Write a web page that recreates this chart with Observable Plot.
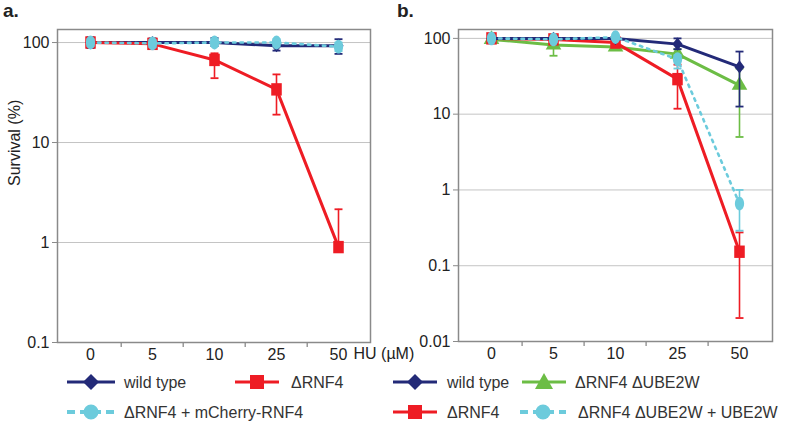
<!DOCTYPE html>
<html><head><meta charset="utf-8">
<script src="https://cdn.jsdelivr.net/npm/d3@7"></script>
<script src="https://cdn.jsdelivr.net/npm/@observablehq/plot@0.6"></script>
<style>
body{margin:0;background:#fff;font-family:"Liberation Sans",Arial,sans-serif;}
#wrap{position:relative;width:787px;height:423px;overflow:hidden;}
.pl{position:absolute;top:0;}
.lab{position:absolute;font-weight:bold;font-size:19px;color:#222;}
</style></head>
<body><div id="wrap"></div>
<script>
// ---- data ----
const doses = ["0", "5", "10", "25", "50"];
const seriesNames = ["wild type", "ΔRNF4", "ΔRNF4 + mCherry-RNF4", "ΔRNF4 ΔUBE2W", "ΔRNF4 ΔUBE2W + UBE2W"];
const colors = ["#232a78", "#ee1c24", "#6ccbdc", "#6cbd45", "#6ccbdc"];

// Panel a
const wtA = [100, 100, 100, 93, 93];
const wtA_lo = [88, 91, 92, 83, 77];
const wtA_hi = [113, 110, 111, 104, 108];
const rnfA = [100, 97, 67, 34, 0.9];
const rnfA_lo = [96, 93, 44, 19, 0.9];
const rnfA_hi = [104, 101, 78, 48, 2.15];
const cyA = [100, 98, 100, 100, 91];
const cyA_lo = [92, 90, 92, 92, 82];
const cyA_hi = [108, 106, 108, 108, 100];

// Panel b
const wtB = [100, 100, 100, 84, 42];
const wtB_lo = [95, 95, 95, 72, 12.6];
const wtB_hi = [105, 108, 106, 100, 67];
const rnfB = [100, 97, 88, 29, 0.153];
const rnfB_lo = [96, 93, 82, 11.8, 0.0204];
const rnfB_hi = [104, 101, 94, 45, 0.275];
const grB = [97, 82, 77, 62, 24];
const grB_lo = [93, 59, 70, 52, 5.0];
const grB_hi = [101, 90, 84, 72, 40];
const cyB = [100, 97, 104, 53, 0.66];
const cyB_lo = [94, 90, 96, 40, 0.29];
const cyB_hi = [106, 104, 110, 60, 1.0];

const yTicksA = [100, 10, 1, 0.1];
const yTicksB = [100, 10, 1, 0.1, 0.01];

// ---- helpers ----
function rows(name, v, lo, hi) {
  return doses.map((d, i) => ({series: name, dose: d, v: v[i], lo: lo[i], hi: hi[i]}));
}
const ellipse = {draw(ctx, size) {
  const r = Math.sqrt(size / Math.PI), rx = r * 0.72, ry = r * 1.08, k = 0.5523;
  ctx.moveTo(rx, 0);
  ctx.bezierCurveTo(rx, ry * k, rx * k, ry, 0, ry);
  ctx.bezierCurveTo(-rx * k, ry, -rx, ry * k, -rx, 0);
  ctx.bezierCurveTo(-rx, -ry * k, -rx * k, -ry, 0, -ry);
  ctx.bezierCurveTo(rx * k, -ry, rx, -ry * k, rx, 0);
  ctx.closePath();
}};
const cap = {draw(ctx, size) {
  const w = Math.sqrt(size) * 0.5;
  ctx.moveTo(-w, 0); ctx.lineTo(w, 0);
}};
const diamond = {draw(ctx, size) {
  const r = Math.sqrt(size / Math.PI);
  ctx.moveTo(0, -r * 1.1); ctx.lineTo(r * 0.85, 0); ctx.lineTo(0, r * 1.1); ctx.lineTo(-r * 0.85, 0); ctx.closePath();
}};
const square = {draw(ctx, size) {
  const r = Math.sqrt(size / Math.PI);
  ctx.rect(-r * 0.85, -r, r * 1.7, r * 2);
}};

function seriesMarks(data, color, sym, r, dash, sw) {
  return [
    Plot.line(data, {x: "dose", y: "v", stroke: color, strokeWidth: sw || 3, strokeDasharray: dash}),
    Plot.ruleX(data, {x: "dose", y1: "lo", y2: "hi", stroke: color, strokeWidth: 1.6}),
    Plot.dot(data, {x: "dose", y: "lo", symbol: cap, r: 4.5, stroke: color, strokeWidth: 1.8}),
    Plot.dot(data, {x: "dose", y: "hi", symbol: cap, r: 4.5, stroke: color, strokeWidth: 1.8}),
    Plot.dot(data, {x: "dose", y: "v", symbol: sym, r: r, fill: color, stroke: "none"})
  ];
}

function panel(opts) {
  const {width, height, ml, mr, mt, mb, ydomain, yticks, series, ylabel, xlabel} = opts;
  const step = (width - ml - mr) / doses.length;
  const marks = [
    Plot.gridY(yticks, {stroke: "#c4c4c4", strokeOpacity: 1, strokeWidth: 1}),
    Plot.frame({stroke: "#8a8a8a", strokeWidth: 1.5}),
    Plot.axisY(yticks, {tickSize: 5, tickPadding: 3, stroke: "#8a8a8a", tickFormat: d3.format("~g"), label: null, fontSize: 16, fill: "#222"}),
    Plot.axisX({tickSize: 0, tickPadding: 6, label: null, fontSize: 16, fill: "#222"}),
    Plot.ruleX(doses.slice(1), {x: d => d, dx: -step / 2, y1: ydomain[0], y2: ydomain[0], insetBottom: -5, stroke: "#8a8a8a", strokeWidth: 1.3})
  ];
  for (const s of series) marks.push(...seriesMarks(s.data, s.color, s.sym, s.r, s.dash, s.sw));
  if (ylabel) marks.push(Plot.text([ylabel], {frameAnchor: "left", rotate: -90, dx: -43, fontSize: 16, fill: "#222", text: d => d}));
  if (xlabel) marks.push(Plot.text([xlabel], {x: () => doses[doses.length - 1], frameAnchor: "bottom", dx: 15, dy: 16, textAnchor: "start", fontSize: 16, fill: "#222", text: d => d}));
  return Plot.plot({
    width, height, marginLeft: ml, marginRight: mr, marginTop: mt, marginBottom: mb,
    style: {fontFamily: '"Liberation Sans", Arial, sans-serif', fontSize: "16px", overflow: "visible", background: "transparent"},
    x: {type: "point", domain: doses, padding: 0.5},
    y: {type: "log", domain: ydomain},
    marks
  });
}

const wrap = document.getElementById("wrap");

const pa = panel({
  width: 420, height: 365, ml: 57, mr: 50, mt: 29, mb: 23,
  ydomain: [0.1, 135], yticks: yTicksA, ylabel: "Survival (%)", xlabel: "HU (µM)",
  series: [
    {data: rows(seriesNames[0], wtA, wtA_lo, wtA_hi), color: colors[0], sym: diamond, r: 6},
    {data: rows(seriesNames[1], rnfA, rnfA_lo, rnfA_hi), color: colors[1], sym: square, r: 6.2},
    {data: rows(seriesNames[2], cyA, cyA_lo, cyA_hi), color: colors[2], sym: ellipse, r: 6.4, dash: "2.5 5", sw: 2.6}
  ]
});
pa.classList.add("pl"); pa.style.left = "0px";

const pb = panel({
  width: 392, height: 365, ml: 63, mr: 15, mt: 29, mb: 24,
  ydomain: [0.01, 131], yticks: yTicksB,
  series: [
    {data: rows(seriesNames[3], grB, grB_lo, grB_hi), color: colors[3], sym: "triangle", r: 5.8},
    {data: rows(seriesNames[1], rnfB, rnfB_lo, rnfB_hi), color: colors[1], sym: square, r: 6.2},
    {data: rows(seriesNames[0], wtB, wtB_lo, wtB_hi), color: colors[0], sym: diamond, r: 6},
    {data: rows(seriesNames[4], cyB, cyB_lo, cyB_hi), color: colors[4], sym: ellipse, r: 6.4, dash: "2.5 5", sw: 2.6}
  ]
});
pb.classList.add("pl"); pb.style.left = "395px";

wrap.appendChild(pb);
wrap.appendChild(pa);

// panel letters
for (const [t, x] of [["a.", 3], ["b.", 397]]) {
  const d = document.createElement("div");
  d.className = "lab"; d.textContent = t; d.style.left = x + "px"; d.style.top = "0px";
  wrap.appendChild(d);
}

// legend
const legendItems = [
  {name: seriesNames[0], color: colors[0], shape: "diamond", x0: 67, x1: 115, tx: 124, row: 0},
  {name: seriesNames[1], color: colors[1], shape: "square", x0: 235, x1: 279, tx: 291, row: 0},
  {name: seriesNames[2], color: colors[2], shape: "circle", x0: 67, x1: 115, tx: 124, row: 1, dash: true},
  {name: seriesNames[0], color: colors[0], shape: "diamond", x0: 393, x1: 437, tx: 447, row: 0},
  {name: seriesNames[3], color: colors[3], shape: "triangle", x0: 522, x1: 566, tx: 575, row: 0},
  {name: seriesNames[1], color: colors[1], shape: "square", x0: 393, x1: 437, tx: 447, row: 1},
  {name: seriesNames[4], color: colors[4], shape: "circle", x0: 520, x1: 566, tx: 578, row: 1, dash: true}
];
const rowY = [382, 412];
const ns = "http://www.w3.org/2000/svg";
const lg = document.createElementNS(ns, "svg");
lg.setAttribute("width", 787); lg.setAttribute("height", 423);
lg.style.position = "absolute"; lg.style.left = "0"; lg.style.top = "0";
for (const it of legendItems) {
  const y = rowY[it.row], cx = (it.x0 + it.x1) / 2;
  const ln = document.createElementNS(ns, "line");
  ln.setAttribute("x1", it.x0); ln.setAttribute("x2", it.x1); ln.setAttribute("y1", y); ln.setAttribute("y2", y);
  ln.setAttribute("stroke", it.color); ln.setAttribute("stroke-width", it.dash ? 4 : 3);
  if (it.dash) ln.setAttribute("stroke-dasharray", "8 5");
  lg.appendChild(ln);
  const p = document.createElementNS(ns, "path");
  let d;
  if (it.shape === "diamond") d = `M${cx},${y-8}L${cx+8},${y}L${cx},${y+8}L${cx-8},${y}Z`;
  else if (it.shape === "square") d = `M${cx-7},${y-7}h14v14h-14Z`;
  else if (it.shape === "triangle") d = `M${cx},${y-9}L${cx+9},${y+7}L${cx-9},${y+7}Z`;
  else d = `M${cx-7.5},${y}a7.5,7.5 0 1,0 15,0a7.5,7.5 0 1,0 -15,0Z`;
  p.setAttribute("d", d); p.setAttribute("fill", it.color);
  lg.appendChild(p);
  const t = document.createElementNS(ns, "text");
  t.setAttribute("x", it.tx); t.setAttribute("y", y + 6);
  t.setAttribute("font-size", 16); t.setAttribute("fill", "#333");
  t.setAttribute("font-family", '"Liberation Sans", Arial, sans-serif');
  t.textContent = it.name;
  lg.appendChild(t);
}
wrap.appendChild(lg);
</script></body></html>
